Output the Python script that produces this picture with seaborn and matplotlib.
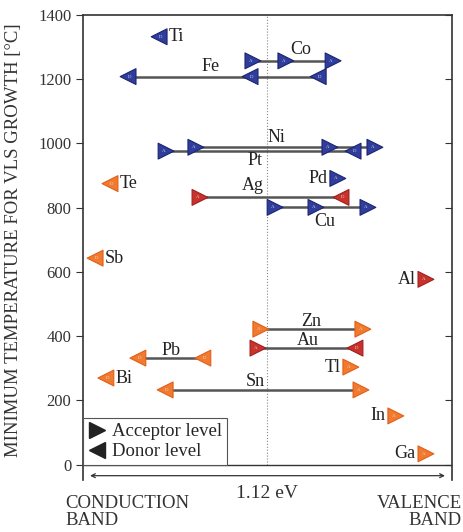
import matplotlib
matplotlib.use("Agg")
import pandas as pd
import seaborn as sns
import matplotlib.pyplot as plt
from matplotlib.lines import Line2D

# energy measured from the conduction band [eV], temperature [C]
elements = ["Ti", "Co", "Co", "Co", "Fe", "Fe", "Fe", "Ni", "Ni", "Ni", "Pt", "Pt",
            "Te", "Pd", "Ag", "Ag", "Cu", "Cu", "Cu", "Sb", "Al", "Zn", "Zn", "Au", "Au",
            "Pb", "Pb", "Tl", "Bi", "Sn", "Sn", "In", "Ga"]
temps = [1332, 1257, 1257, 1257, 1208, 1208, 1208, 988, 988, 988, 976, 976,
         875, 891, 832, 832, 801, 801, 801, 643, 577, 422, 422, 363, 363,
         332, 332, 304, 270, 233, 233, 152, 34]
energies = [0.218, 0.514, 0.618, 0.767, 0.12, 0.505, 0.72, 0.334, 0.757, 0.899, 0.240, 0.830,
            0.063, 0.782, 0.347, 0.792, 0.584, 0.713, 0.877, 0.016, 1.06, 0.539, 0.861, 0.530, 0.836,
            0.151, 0.356, 0.823, 0.05, 0.237, 0.855, 0.965, 1.06]
levels = ["D", "A", "A", "A", "D", "D", "D", "A", "A", "A", "A", "D",
          "D", "A", "A", "D", "A", "A", "A", "D", "A", "A", "A", "A", "D",
          "D", "D", "A", "D", "D", "A", "A", "A"]
groups = {"Ti": "blue", "Co": "blue", "Fe": "blue", "Ni": "blue", "Pt": "blue", "Pd": "blue",
          "Cu": "blue", "Ag": "red", "Al": "red", "Au": "red", "Te": "orange", "Sb": "orange",
          "Zn": "orange", "Pb": "orange", "Tl": "orange", "Bi": "orange", "Sn": "orange",
          "In": "orange", "Ga": "orange"}

df = pd.DataFrame({"el": elements, "T": temps, "E": energies, "lvl": levels})
df["grp"] = df["el"].map(groups)

palette = {"blue": "#2f3d9c", "orange": "#f27a2e", "red": "#c8322b"}
edges = {"blue": "#1c2470", "orange": "#e0601a", "red": "#9e2020"}

# label placement: (x, y, ha)
label_pos = {"Ti": (0.248, 1332, "left"), "Co": (0.666, 1292, "center"),
             "Fe": (0.379, 1238, "center"), "Ni": (0.587, 1020, "center"),
             "Pt": (0.52, 948, "center"), "Te": (0.093, 875, "left"),
             "Pd": (0.75, 891, "right"), "Ag": (0.514, 868, "center"),
             "Cu": (0.741, 758, "center"), "Sb": (0.046, 643, "left"),
             "Al": (1.028, 577, "right"), "Zn": (0.697, 447, "center"),
             "Au": (0.688, 386, "center"), "Pb": (0.256, 356, "center"),
             "Tl": (0.791, 304, "right"), "Bi": (0.08, 270, "left"),
             "Sn": (0.52, 259, "center"), "In": (0.933, 152, "right"),
             "Ga": (1.028, 34, "right")}

sns.set_style("ticks")
plt.rcParams["font.family"] = ["Liberation Serif", "DejaVu Serif"]

fig = plt.figure(figsize=(4.64, 5.32), dpi=100)
ax = fig.add_axes([0.179, 0.098, 0.795, 0.874])

# connecting lines
for el, sub in df.groupby("el"):
    if len(sub) > 1:
        ax.plot([sub["E"].min(), sub["E"].max()], [sub["T"].iloc[0]] * 2,
                color="#555555", lw=1.8, zorder=2)

for grp, sub in df.groupby("grp"):
    sns.scatterplot(data=sub, x="E", y="T", style="lvl", markers={"A": ">", "D": "<"},
                    color=palette[grp], edgecolor=edges[grp], linewidth=0.8, s=130,
                    legend=False, ax=ax, zorder=3)

for _, r in df.iterrows():
    dx = -0.006 if r["lvl"] == "A" else 0.006
    ax.text(r["E"] + dx, r["T"], r["lvl"], fontsize=3.5, color="#dddddd",
            ha="center", va="center", zorder=4)

for el, (x, y, ha) in label_pos.items():
    ax.text(x, y, el, fontsize=13, ha=ha, va="center", color="#222222", zorder=5)

ax.vlines(0.56, 0, 1400, colors="#888888", linestyles=":", lw=0.8, zorder=1)
ax.axhline(0, color="#333333", lw=1.0)
ax.annotate("", xy=(1.12, -34), xytext=(0, -34),
            arrowprops=dict(arrowstyle="<->", color="#333333", lw=0.9,
                            mutation_scale=7, shrinkA=0, shrinkB=0),
            annotation_clip=False)

ax.set_xlim(-0.022, 1.142)
ax.set_ylim(-47, 1400)
ax.set_yticks(range(0, 1401, 200))
ax.set_xticks([])
ax.tick_params(axis="y", which="both", labelsize=12, colors="#333333")
ax.tick_params(axis="y", left=True, direction="out", length=5)
ax.yaxis.set_tick_params(right=True)
for t in ax.yaxis.get_major_ticks():
    t.tick2line.set_marker(matplotlib.lines.TICKLEFT)
    t.tick2line.set_markersize(5)
ax.spines["bottom"].set_visible(False)
for s in ["left", "right", "top"]:
    ax.spines[s].set_color("#333333")
    ax.spines[s].set_linewidth(1.2)
ax.set_ylabel("MINIMUM TEMPERATURE FOR VLS GROWTH [°C]", fontsize=13.5, color="#333333")
ax.yaxis.set_label_coords(-0.165, 0.516)
ax.set_xlabel("")

ax.text(0.56, -88, "1.12 eV", fontsize=14, ha="center", va="center", color="#333333",
        clip_on=False)
fig.text(65 / 464, 1 - 495 / 532, "CONDUCTION\nBAND", fontsize=13.5, ha="left", va="top",
         color="#333333", linespacing=1.0)
fig.text(462 / 464, 1 - 495 / 532, "VALENCE\nBAND", fontsize=13.5, ha="right", va="top",
         color="#333333", linespacing=1.0, multialignment="right")

handles = [Line2D([], [], ls="", marker=">", color="#222222", markersize=11),
           Line2D([], [], ls="", marker="<", color="#222222", markersize=11)]
leg = ax.legend(handles, ["Acceptor level", "Donor level"], loc="lower left",
                bbox_to_anchor=(0.0, 47 / 1447), fontsize=13.5, frameon=True, fancybox=False,
                framealpha=1, edgecolor="#555555", handletextpad=0.3,
                borderpad=0.25, labelspacing=0.15, handlelength=1.0,
                borderaxespad=0.0)
leg.get_frame().set_linewidth(0.8)

fig.savefig("out.png", dpi=100)
